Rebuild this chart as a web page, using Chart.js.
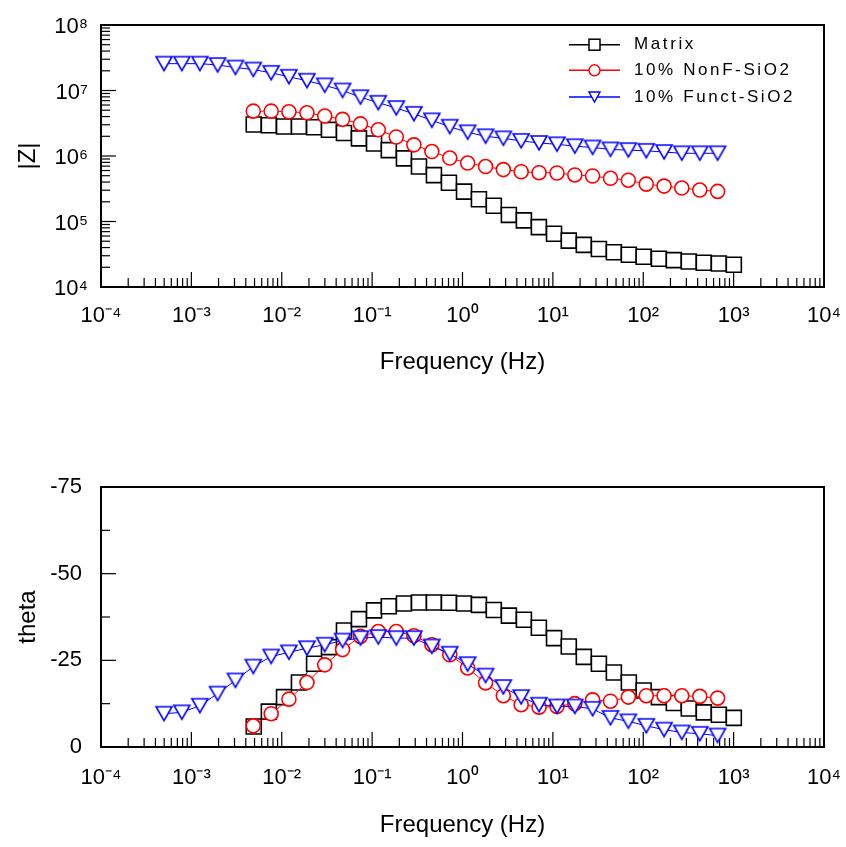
<!DOCTYPE html>
<html>
<head>
<meta charset="utf-8">
<script src="https://cdn.jsdelivr.net/npm/chart.js@4.4.1/dist/chart.umd.min.js"></script>
<style>
  html,body{margin:0;padding:0;background:#fff;}
  #wrap{position:relative;width:846px;height:847px;overflow:hidden;}
  #wrap canvas{position:absolute;left:0;}
  #cz{top:0;}
  #ct{top:440px;}
</style>
</head>
<body>
<div id="wrap">
  <canvas id="cz" width="846" height="420"></canvas>
  <canvas id="ct" width="846" height="407"></canvas>
</div>
<script>
// frequencies (Hz)
const freqMatrix=[0.0049,0.0072,0.0106,0.0155,0.0228,0.0333,0.0488,0.0715,0.105,0.153,0.225,0.330,0.483,0.708,1.04,1.52,2.22,3.26,4.78,7.00,10.3,15.0,22.0,32.3,47.3,69.3,101,149,218,319,468,686,1005];
const freqNonF=[0.00484,0.00764,0.0120,0.0190,0.0299,0.0471,0.0743,0.117,0.185,0.290,0.458,0.723,1.14,1.80,2.83,4.46,7.03,11.1,17.5,27.5,43.4,68.4,108,170,267,422,665];
const freqFunct=[0.000498,0.000785,0.00124,0.00195,0.00307,0.00484,0.00764,0.0120,0.0190,0.0299,0.0471,0.0743,0.117,0.185,0.290,0.458,0.723,1.14,1.80,2.83,4.46,7.03,11.1,17.5,27.5,43.4,68.4,108,170,267,422,665];

// |Z| (ohm)
const zMatrix=[3.02e6,2.95e6,2.82e6,2.82e6,2.75e6,2.51e6,2.24e6,1.86e6,1.55e6,1.23e6,9.2e5,6.9e5,5.1e5,3.9e5,2.86e5,2.19e5,1.74e5,1.26e5,1.04e5,8.2e4,6.5e4,5.1e4,4.4e4,3.8e4,3.4e4,3.1e4,2.9e4,2.7e4,2.57e4,2.45e4,2.34e4,2.29e4,2.19e4];
const zNonF=[4.84e6,4.84e6,4.73e6,4.57e6,4.07e6,3.63e6,3.09e6,2.51e6,1.95e6,1.48e6,1.17e6,9.3e5,7.8e5,6.9e5,6.2e5,5.75e5,5.56e5,5.5e5,5.13e5,4.95e5,4.57e5,4.27e5,3.72e5,3.47e5,3.24e5,3.02e5,2.88e5];
const zFunct=[2.57e7,2.57e7,2.57e7,2.45e7,2.24e7,2.09e7,1.86e7,1.62e7,1.41e7,1.20e7,1.0e7,7.9e6,6.5e6,5.4e6,4.4e6,3.5e6,2.8e6,2.3e6,2.0e6,1.86e6,1.7e6,1.58e6,1.51e6,1.41e6,1.35e6,1.26e6,1.23e6,1.2e6,1.15e6,1.1e6,1.1e6,1.1e6];

// phase angle (deg)
const thetaMatrix=[-5.9,-10.2,-14.4,-18.6,-24.0,-28.8,-33.6,-36.9,-39.4,-40.6,-41.4,-41.7,-41.7,-41.6,-41.4,-41.0,-39.5,-37.9,-36.7,-34.4,-31.4,-29.0,-26.0,-24.0,-21.5,-18.6,-16.3,-14.4,-12.7,-11.1,-10.0,-9.3,-8.4];
const thetaNonF=[-6.1,-9.6,-13.8,-18.6,-23.7,-28.1,-31.9,-33.3,-33.3,-32.1,-29.5,-26.6,-22.8,-18.5,-14.8,-12.2,-11.5,-11.7,-12.5,-13.6,-13.2,-14.4,-14.8,-14.8,-14.8,-14.6,-14.1];
const thetaFunct=[-9.6,-10.0,-11.9,-15.4,-19.2,-23.2,-26.1,-27.3,-28.5,-29.5,-30.7,-31.4,-31.7,-31.4,-31.4,-29.0,-26.9,-23.9,-20.6,-17.3,-14.4,-12.2,-11.7,-11.7,-11.0,-8.4,-7.4,-6.1,-5.0,-4.2,-3.8,-3.3];

const seriesNames=['Matrix','10% NonF-SiO2','10% Funct-SiO2'];
const seriesColors=['#000000','#ff0000','#0000ff'];

const freqTickLabels=['10⁻⁴','10⁻³','10⁻²','10⁻¹','10⁰','10¹','10²','10³','10⁴'];
const zTickLabels=['10⁴','10⁵','10⁶','10⁷','10⁸'];
const thetaTicks=[0,-25,-50,-75];
const thetaMinor=[-12.5,-37.5,-62.5];
const decadeSteps=[1,2,3,4,5,6,7,8,9];

const FONT='"Liberation Sans", Arial, Helvetica, sans-serif';
const tickFont={family:FONT,size:22};
const titleFont={family:FONT,size:24};
Chart.defaults.color='#000';

function makeTriangle(w,h,color,lw){
  const c=document.createElement('canvas');
  c.width=w+4;c.height=h+4;
  const g=c.getContext('2d');
  g.fillStyle='#fff';g.strokeStyle=color;g.lineWidth=lw;g.lineJoin='miter';
  g.beginPath();g.moveTo(2,2);g.lineTo(w+2,2);g.lineTo(w/2+2,h+2);g.closePath();
  g.fill();g.stroke();
  return c;
}
const triMark=makeTriangle(16,14,seriesColors[2],1.6);
const triSmall=makeTriangle(11,10,seriesColors[2],1.4);

function pts(xs,ys){return xs.map((x,i)=>({x,y:ys[i]}));}

function logTicks(lo,hi){
  const t=[];
  for(let e=lo;e<hi;e++)for(const m of decadeSteps)t.push({value:m*Math.pow(10,e),major:m===1});
  t.push({value:Math.pow(10,hi),major:true});
  return t;
}
function logLabel(labels,lo){
  return (v,i,ticks)=>ticks[i]&&ticks[i].major?labels[Math.round(Math.log10(v))-lo]:'';
}

function buildDatasets(ys){
  const base=[
    {label:seriesNames[0],data:pts(freqMatrix,ys[0]),pointStyle:'rect',pointRadius:10.6,order:2},
    {label:seriesNames[1],data:pts(freqNonF,ys[1]),pointStyle:'circle',pointRadius:7,order:1},
    {label:seriesNames[2],data:pts(freqFunct,ys[2]),pointStyle:triMark,pointRadius:8,order:0}
  ];
  return base.map((d,i)=>Object.assign({
    borderColor:seriesColors[i],borderWidth:1,pointBorderColor:seriesColors[i],
    pointBackgroundColor:'#fff',pointBorderWidth:1.6,showLine:true,tension:0,
    pointHoverRadius:d.pointRadius,clip:false
  },d));
}

// inward tick marks + frame
const frameTicks={
  id:'frameTicks',
  beforeDatasetsDraw(chart){
    const {ctx,chartArea:a,scales}=chart;
    ctx.save();
    ctx.strokeStyle='#000';ctx.lineWidth=1.2;
    scales.x.ticks.forEach(t=>{
      const px=scales.x.getPixelForValue(t.value);
      const len=t.major?15:9;
      ctx.beginPath();ctx.moveTo(px,a.bottom);ctx.lineTo(px,a.bottom-len);ctx.stroke();
    });
    scales.y.ticks.forEach(t=>{
      const py=scales.y.getPixelForValue(t.value);
      const len=t.major?15:9;
      ctx.beginPath();ctx.moveTo(a.left,py);ctx.lineTo(a.left+len,py);ctx.stroke();
    });
    ctx.lineWidth=2;
    ctx.strokeRect(a.left,a.top,a.right-a.left,a.bottom-a.top);
    ctx.restore();
  }
};

const legendRows=[44.7,70.3,97];
const legendBox={
  id:'legendBox',
  afterDatasetsDraw(chart){
    const ctx=chart.ctx;
    ctx.save();
    chart.data.datasets.forEach((d,i)=>{
      const y=legendRows[i];
      ctx.strokeStyle=d.borderColor;ctx.lineWidth=1.5;
      ctx.beginPath();ctx.moveTo(569,y);ctx.lineTo(620,y);ctx.stroke();
      ctx.fillStyle='#fff';
      if(d.pointStyle==='rect'){ctx.fillRect(589,y-5.5,11,11);ctx.strokeRect(589,y-5.5,11,11);}
      else if(d.pointStyle==='circle'){ctx.beginPath();ctx.arc(594.5,y,5.5,0,Math.PI*2);ctx.fill();ctx.stroke();}
      else ctx.drawImage(triSmall,594.5-triSmall.width/2,y-triSmall.height/2);
      ctx.fillStyle='#000';
      ctx.font='17px '+FONT;
      ctx.letterSpacing='2.6px';
      ctx.textAlign='left';ctx.textBaseline='middle';
      ctx.fillText(d.label,634,y);
    });
    ctx.restore();
  }
};

function xScale(h,titlePad,tickPad){
  return {
    type:'logarithmic',min:1e-4,max:1e4,
    afterBuildTicks:s=>{s.ticks=logTicks(-4,4);},
    afterFit:s=>{s.height=h;s.paddingLeft=0;s.paddingRight=0;},
    grid:{display:false,drawTicks:false},border:{display:false},
    ticks:{autoSkip:false,maxRotation:0,minRotation:0,padding:tickPad,font:tickFont,callback:logLabel(freqTickLabels,-4)},
    title:{display:true,text:'Frequency (Hz)',font:titleFont,padding:{top:0,bottom:titlePad}}
  };
}

new Chart(document.getElementById('cz'),{
  type:'line',
  data:{datasets:buildDatasets([zMatrix,zNonF,zFunct])},
  options:{
    responsive:false,animation:false,events:[],
    layout:{padding:{top:25,right:22,left:0,bottom:0}},
    plugins:{legend:{display:false},tooltip:{enabled:false}},
    scales:{
      x:xScale(133,43.6,16),
      y:{
        type:'logarithmic',min:1e4,max:1e8,
        afterBuildTicks:s=>{s.ticks=logTicks(4,8);},
        afterFit:s=>{s.width=101;s.paddingTop=0;s.paddingBottom=0;},
        grid:{display:false,drawTicks:false},border:{display:false},
        ticks:{autoSkip:false,padding:13,labelOffset:2,font:tickFont,callback:logLabel(zTickLabels,4)},
        title:{display:true,text:'|Z|',font:titleFont,padding:{top:14,bottom:0}}
      }
    }
  },
  plugins:[frameTicks,legendBox]
});

new Chart(document.getElementById('ct'),{
  type:'line',
  data:{datasets:buildDatasets([thetaMatrix,thetaNonF,thetaFunct])},
  options:{
    responsive:false,animation:false,events:[],
    layout:{padding:{top:47,right:22,left:0,bottom:0}},
    plugins:{legend:{display:false},tooltip:{enabled:false}},
    scales:{
      x:xScale(100,7.6,18),
      y:{
        type:'linear',min:-75,max:0,reverse:true,
        afterBuildTicks:s=>{
          s.ticks=thetaTicks.map(v=>({value:v,major:true})).concat(thetaMinor.map(v=>({value:v,major:false})));
        },
        afterFit:s=>{s.width=101;s.paddingTop=0;s.paddingBottom=0;},
        grid:{display:false,drawTicks:false},border:{display:false},
        ticks:{autoSkip:false,padding:19,font:tickFont,callback:(v,i,ticks)=>ticks[i]&&ticks[i].major?String(v):''},
        title:{display:true,text:'theta',font:titleFont,padding:{top:14,bottom:0}}
      }
    }
  },
  plugins:[frameTicks]
});
</script>
</body>
</html>
